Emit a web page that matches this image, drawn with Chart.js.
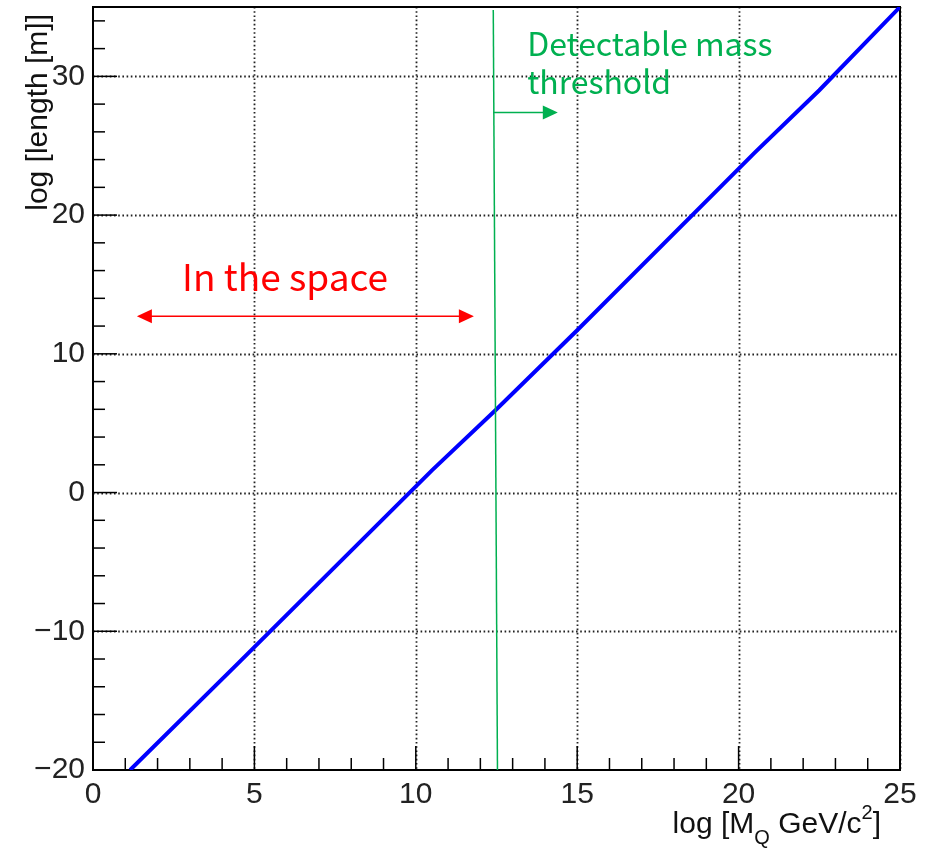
<!DOCTYPE html>
<html>
<head>
<meta charset="utf-8">
<script src="https://cdn.jsdelivr.net/npm/chart.js@4.4.1/dist/chart.umd.min.js"></script>
<style>
  html, body { margin: 0; padding: 0; background: #fff; }
  #wrap { width: 928px; height: 849px; }
</style>
</head>
<body>
<div id="wrap"><canvas id="c"></canvas></div>
<script>
// values
var massLog   = [1.15, 4.5, 10.5, 12.5, 15, 20.5, 22.5, 25];
var lengthLog = [-20, -12.3, 1.6, 6.0, 11.7, 24.5, 29.0, 35];

var xTicks = [0, 5, 10, 15, 20, 25];
var yTicks = [-20, -10, 0, 10, 20, 30];

// annotation anchors (data units)
var thresholdLineX = [12.4, 12.53];      // top, bottom
var thresholdArrowX = [12.4, 14.4];
var thresholdArrowY = 27.4;
var thresholdText = ['Detectable mass', 'threshold'];
var spaceArrowX = [1.36, 11.8];
var spaceArrowY = 12.7;
var spaceText = 'In the space';

var GREEN = '#00b050';
var RED = '#ff0000';
var BLUE = '#0000ff';
var AXIS_FONT = '"Liberation Sans", Arial, Helvetica, sans-serif';
var NOTE_FONT = '"Noto Sans CJK JP", "Noto Sans", sans-serif';

function minus(v) {
  return v < 0 ? '\u2212' + Math.abs(v) : String(v);
}

function arrowHead(ctx, x, y, dir, len, half) {
  ctx.beginPath();
  ctx.moveTo(x, y);
  ctx.lineTo(x - dir * len, y - half);
  ctx.lineTo(x - dir * len, y + half);
  ctx.closePath();
  ctx.fill();
}

var frameAndGrid = {
  id: 'frameAndGrid',
  beforeDatasetsDraw: function(chart) {
    var ctx = chart.ctx, a = chart.chartArea;
    var xs = chart.scales.x, ys = chart.scales.y;
    ctx.save();

    // dotted grid at major ticks
    ctx.strokeStyle = '#222';
    ctx.lineWidth = 1.8;
    ctx.setLineDash([1.6, 2.6]);
    xTicks.forEach(function(v) {
      if (v === xs.min) return;
      var px = Math.round(xs.getPixelForValue(v)) + 0.5;
      ctx.beginPath(); ctx.moveTo(px, a.top); ctx.lineTo(px, a.bottom); ctx.stroke();
    });
    yTicks.forEach(function(v) {
      if (v === ys.min) return;
      var py = Math.round(ys.getPixelForValue(v)) + 0.5;
      ctx.beginPath(); ctx.moveTo(a.left, py); ctx.lineTo(a.right, py); ctx.stroke();
    });
    ctx.setLineDash([]);

    // tick marks, drawn inside the frame
    ctx.strokeStyle = '#000';
    ctx.lineWidth = 1.5;
    var v, px, py, len;
    for (v = xs.min; v <= xs.max; v += 1) {
      px = xs.getPixelForValue(v);
      len = (v % 5 === 0) ? 24 : 12;
      ctx.beginPath(); ctx.moveTo(px, a.bottom); ctx.lineTo(px, a.bottom - len); ctx.stroke();
    }
    for (v = ys.min; v <= ys.max; v += 2) {
      py = ys.getPixelForValue(v);
      len = (v % 10 === 0) ? 24 : 12;
      ctx.beginPath(); ctx.moveTo(a.left, py); ctx.lineTo(a.left + len, py); ctx.stroke();
    }

    // frame
    ctx.lineWidth = 2;
    ctx.strokeRect(a.left, a.top, a.right - a.left, a.bottom - a.top);
    ctx.restore();
  },
  afterDatasetsDraw: function(chart) {
    var ctx = chart.ctx;
    var xs = chart.scales.x, ys = chart.scales.y;
    ctx.save();

    // green threshold line and arrow
    ctx.strokeStyle = GREEN;
    ctx.fillStyle = GREEN;
    ctx.lineWidth = 1.5;
    ctx.beginPath();
    ctx.moveTo(xs.getPixelForValue(thresholdLineX[0]), chart.chartArea.top + 3);
    ctx.lineTo(xs.getPixelForValue(thresholdLineX[1]), chart.chartArea.bottom);
    ctx.stroke();
    var gy = ys.getPixelForValue(thresholdArrowY);
    var gx0 = xs.getPixelForValue(thresholdArrowX[0]);
    var gx1 = xs.getPixelForValue(thresholdArrowX[1]);
    ctx.beginPath(); ctx.moveTo(gx0, gy); ctx.lineTo(gx1 - 10, gy); ctx.stroke();
    arrowHead(ctx, gx1, gy, 1, 15, 7);

    ctx.font = '32px ' + NOTE_FONT;
    ctx.textAlign = 'left';
    ctx.textBaseline = 'alphabetic';
    ctx.fillText(thresholdText[0], xs.getPixelForValue(13.45), ys.getPixelForValue(31.5));
    ctx.fillText(thresholdText[1], xs.getPixelForValue(13.45), ys.getPixelForValue(28.7));

    // red double arrow
    ctx.strokeStyle = RED;
    ctx.fillStyle = RED;
    ctx.lineWidth = 1.5;
    var ry = ys.getPixelForValue(spaceArrowY);
    var rx0 = xs.getPixelForValue(spaceArrowX[0]);
    var rx1 = xs.getPixelForValue(spaceArrowX[1]);
    ctx.beginPath(); ctx.moveTo(rx0 + 10, ry); ctx.lineTo(rx1 - 10, ry); ctx.stroke();
    arrowHead(ctx, rx0, ry, -1, 15, 7);
    arrowHead(ctx, rx1, ry, 1, 15, 7);
    ctx.font = '37px ' + NOTE_FONT;
    ctx.fillText(spaceText, xs.getPixelForValue(2.76), ys.getPixelForValue(14.5));

    ctx.restore();
  },
  afterDraw: function(chart) {
    var ctx = chart.ctx;
    ctx.save();
    ctx.fillStyle = '#111';
    ctx.textBaseline = 'alphabetic';

    // y title, rotated, flush with the top
    ctx.font = '30px ' + AXIS_FONT;
    ctx.translate(47, 14);
    ctx.rotate(-Math.PI / 2);
    ctx.textAlign = 'right';
    ctx.fillText('log [length [m]]', 0, 0);
    ctx.setTransform(1, 0, 0, 1, 0, 0);

    // x title with subscript Q and superscript 2, flush right
    var parts = [
      { t: 'log [M', size: 30, dy: 0 },
      { t: 'Q', size: 20, dy: 11 },
      { t: ' GeV/c', size: 30, dy: 0 },
      { t: '2', size: 20, dy: -14 },
      { t: ']', size: 30, dy: 0 }
    ];
    var total = 0;
    parts.forEach(function(p) {
      ctx.font = p.size + 'px ' + AXIS_FONT;
      p.w = ctx.measureText(p.t).width;
      total += p.w;
    });
    var x = 881 - total, base = 833;
    ctx.textAlign = 'left';
    parts.forEach(function(p) {
      ctx.font = p.size + 'px ' + AXIS_FONT;
      ctx.fillText(p.t, x, base + p.dy);
      x += p.w;
    });
    ctx.restore();
  }
};

new Chart(document.getElementById('c'), {
  type: 'scatter',
  data: {
    datasets: [{
      data: massLog.map(function(m, i) { return { x: m, y: lengthLog[i] }; }),
      showLine: true,
      borderColor: BLUE,
      borderWidth: 4,
      pointRadius: 0,
      tension: 0
    }]
  },
  options: {
    responsive: true,
    maintainAspectRatio: false,
    animation: false,
    layout: { padding: { left: 0, top: 7, right: 28, bottom: 0 } },
    plugins: { legend: { display: false }, tooltip: { enabled: false } },
    scales: {
      x: {
        type: 'linear', min: 0, max: 25,
        grid: { display: false, drawTicks: false },
        border: { display: false },
        afterBuildTicks: function(s) { s.ticks = xTicks.map(function(v) { return { value: v }; }); },
        afterFit: function(s) { s.height = 79; s.paddingLeft = 0; s.paddingRight = 0; },
        ticks: {
          padding: 7,
          maxRotation: 0,
          autoSkip: false,
          color: '#222',
          font: { family: AXIS_FONT, size: 30 },
          callback: function(v) { return minus(v); }
        }
      },
      y: {
        type: 'linear', min: -20, max: 35,
        grid: { display: false, drawTicks: false },
        border: { display: false },
        afterBuildTicks: function(s) { s.ticks = yTicks.map(function(v) { return { value: v }; }); },
        afterFit: function(s) { s.width = 93; s.paddingTop = 0; s.paddingBottom = 0; },
        ticks: {
          padding: 8,
          autoSkip: false,
          color: '#222',
          font: { family: AXIS_FONT, size: 30 },
          callback: function(v) { return minus(v); }
        }
      }
    }
  },
  plugins: [frameAndGrid]
});
</script>
</body>
</html>
